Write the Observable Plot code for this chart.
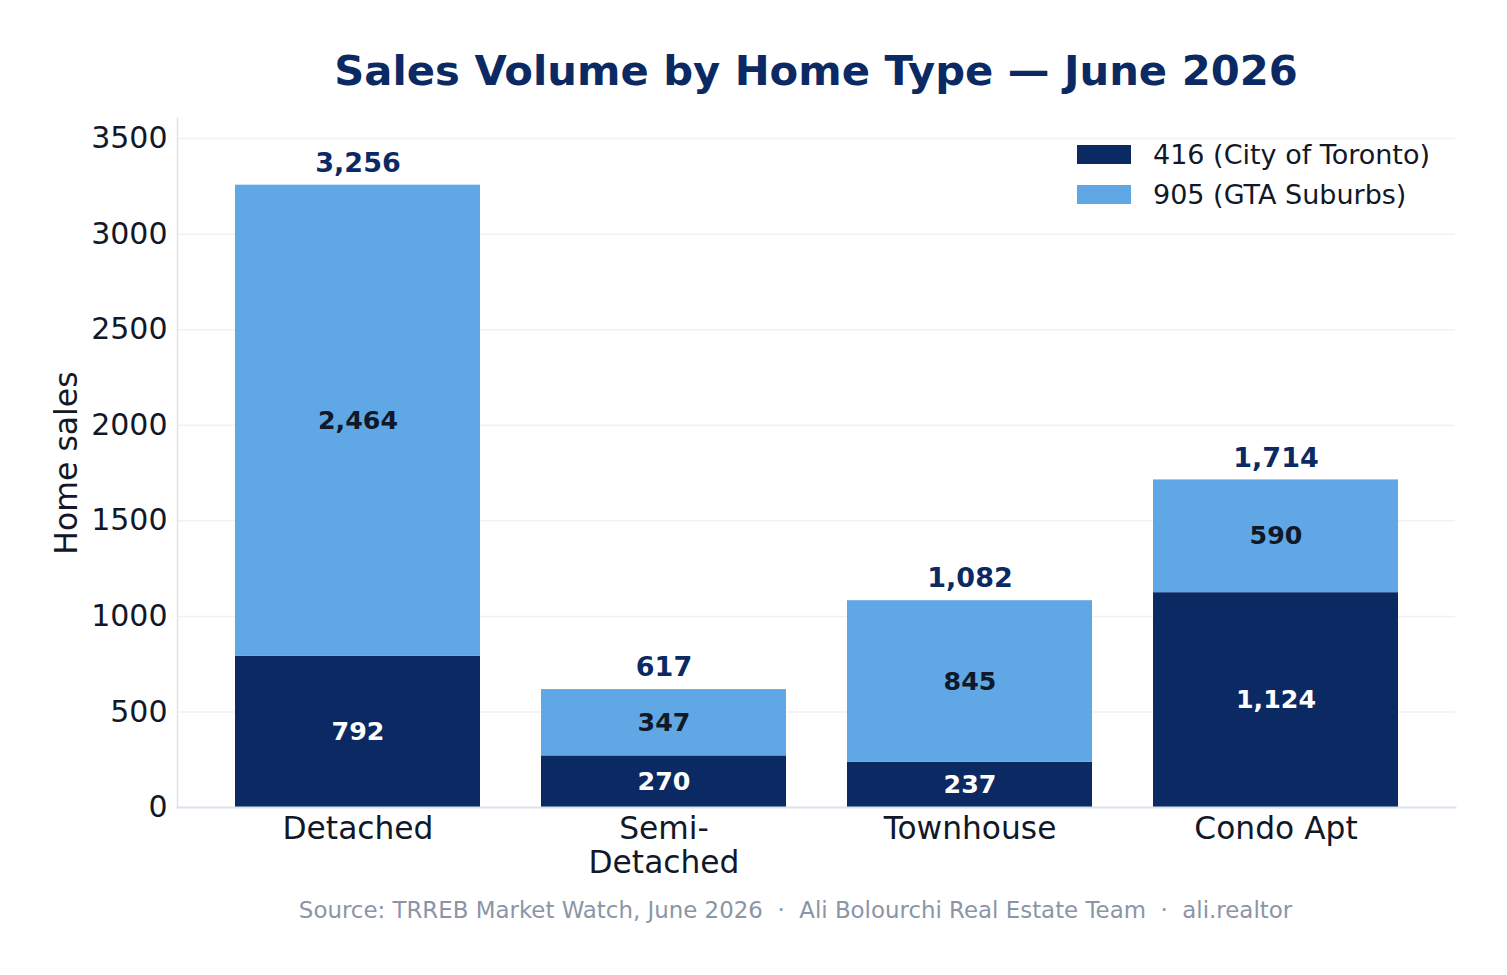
<!DOCTYPE html>
<html>
<head>
<meta charset="utf-8">
<script src="https://cdn.jsdelivr.net/npm/d3@7"></script>
<script src="https://cdn.jsdelivr.net/npm/@observablehq/plot@0.6"></script>
<style>
  html, body { margin: 0; padding: 0; background: #fff; }
  body { width: 1507px; height: 975px; position: relative; overflow: hidden; font-family: "DejaVu Sans", sans-serif; }
  #title { position: absolute; left: 177px; width: 1278px; top: 46px; height: 50px; line-height: 50px; text-align: center; font-size: 41.7px; font-weight: bold; color: #0b2a64; }
  #chart { position: absolute; left: 0; top: 0; }
  #legend { position: absolute; left: 1077px; top: 134px; font-size: 27px; color: #111827; }
  .item { display: flex; align-items: center; height: 40px; }
  .sw { width: 54px; height: 19px; margin-right: 22px; }
  #footer { position: absolute; left: 0; width: 1591px; top: 895px; height: 30px; line-height: 30px; text-align: center; font-size: 22.9px; color: #8b95a7; }
</style>
</head>
<body>
<div id="title">Sales Volume by Home Type — June 2026</div>
<div id="chart"></div>
<div id="legend"></div>
<div id="footer">Source: TRREB Market Watch, June 2026 &nbsp;·&nbsp; Ali Bolourchi Real Estate Team &nbsp;·&nbsp; ali.realtor</div>
<script>
const categories = ["Detached", "Semi-Detached", "Townhouse", "Condo Apt"];
const tickLabels = ["Detached", "Semi-\nDetached", "Townhouse", "Condo Apt"];
const seriesNames = ["416 (City of Toronto)", "905 (GTA Suburbs)"];
const city416 = [792, 270, 237, 1124];
const suburbs905 = [2464, 347, 845, 590];
const totals = [3256, 617, 1082, 1714];
const yTicks = [0, 500, 1000, 1500, 2000, 2500, 3000, 3500];
const colors = ["#0b2a64", "#5fa7e5"];

const rows = [];
categories.forEach((c, i) => {
  rows.push({type: c, series: seriesNames[0], value: city416[i]});
  rows.push({type: c, series: seriesNames[1], value: suburbs905[i]});
});
const totalRows = categories.map((c, i) => ({type: c, total: totals[i]}));
const fmt = d3.format(",");
const labelOf = new Map(categories.map((c, i) => [c, tickLabels[i]]));

const chart = Plot.plot({
  width: 1507,
  height: 900,
  marginTop: 118,
  marginBottom: 93,
  marginLeft: 177,
  marginRight: 52,
  style: {fontFamily: "DejaVu Sans, sans-serif", background: "transparent"},
  x: {domain: categories, paddingInner: 0.2, paddingOuter: 0.188},
  y: {domain: [0, 3605]},
  color: {domain: seriesNames, range: colors},
  marks: [
    Plot.gridY(yTicks, {stroke: "#eef1f5", strokeOpacity: 1, strokeWidth: 1.5}),
    Plot.barY(rows, {x: "type", y: "value", fill: "series", z: "series"}),
    Plot.frame({anchor: "left", stroke: "#dde2ec", strokeWidth: 1.5}),
    Plot.frame({anchor: "bottom", stroke: "#dde2ec", strokeWidth: 2}),
    Plot.text(rows, Plot.stackY({
      x: "type", y: "value", z: "series",
      text: d => fmt(d.value),
      fill: d => d.series === seriesNames[0] ? "#ffffff" : "#111827",
      fontSize: 25.3, fontWeight: "bold"
    })),
    Plot.text(totalRows, {x: "type", y: "total", text: d => fmt(d.total), dy: -22, fontSize: 27, fontWeight: "bold", fill: "#0b2a64"}),
    Plot.axisY({ticks: yTicks, tickSize: 0, tickPadding: 10, fontSize: 30, color: "#111827", label: null, tickFormat: d => String(d)}),
    Plot.axisX({tickSize: 0, tickPadding: 8, fontSize: 31.3, color: "#111827", label: null, lineHeight: 1.07, tickFormat: d => labelOf.get(d)}),
    Plot.text(["Home sales"], {frameAnchor: "left", dx: -111, rotate: -90, textAnchor: "middle", fontSize: 31.5, fill: "#111827"})
  ]
});
document.getElementById("chart").appendChild(chart);

const legend = document.getElementById("legend");
seriesNames.forEach((s, i) => {
  const item = document.createElement("div");
  item.className = "item";
  const sw = document.createElement("div");
  sw.className = "sw";
  sw.style.background = colors[i];
  const t = document.createElement("span");
  t.textContent = s;
  item.appendChild(sw);
  item.appendChild(t);
  legend.appendChild(item);
});
</script>
</body>
</html>
